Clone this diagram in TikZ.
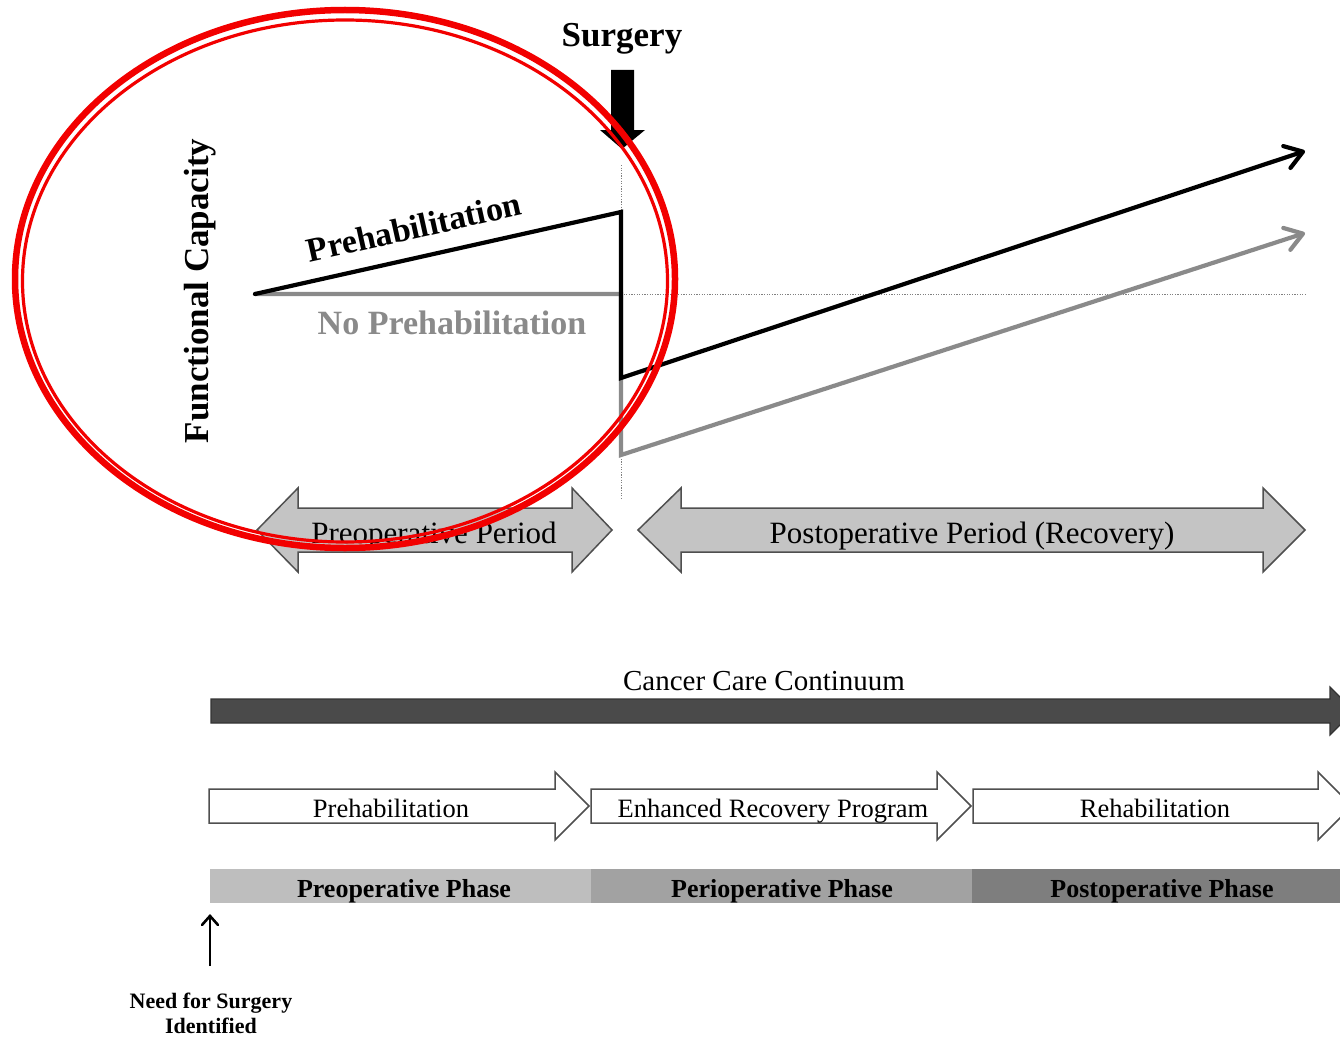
\documentclass[tikz,border=0pt]{standalone}
\usepackage{fontspec}
\setmainfont{Liberation Serif}
\usetikzlibrary{arrows.meta}

\definecolor{lineblack}{HTML}{000000}
\definecolor{linegray}{HTML}{8A8A8A}
\definecolor{periodfill}{HTML}{C4C4C4}
\definecolor{edgegray}{HTML}{4F4F4F}
\definecolor{continuum}{HTML}{4A4A4A}
\definecolor{phaseA}{HTML}{BEBEBE}
\definecolor{phaseB}{HTML}{A2A2A2}
\definecolor{phaseC}{HTML}{7E7E7E}
\definecolor{markred}{HTML}{F20000}

\tikzset{
  trend/.style={line width=4.2pt, line join=miter, line cap=round,
    -{Straight Barb[length=17pt, width=23pt, line cap=round, line join=round]}},
  guide/.style={draw=gray, line width=1pt, dash pattern=on 1.2pt off 1.4pt},
  periodarrow/.style={fill=periodfill, draw=edgegray, line width=1.5pt, line join=miter},
  steparrow/.style={fill=white, draw=edgegray, line width=1.5pt, line join=miter},
  lbl/.style={inner sep=0pt, anchor=center},
  blbl/.style={inner sep=0pt, anchor=base},
}

\begin{document}
\begin{tikzpicture}[x=1pt, y=-1pt]
\useasboundingbox (0,0) rectangle (1340,1038);
\fill[white] (0,0) rectangle (1340,1038);

% ---- functional capacity graph ----
\coordinate (start) at (255,294);
\coordinate (prepeak) at (621,212);
\coordinate (predrop) at (621,378);
\coordinate (pretip) at (1305,151);
\coordinate (nopre) at (621,294);
\coordinate (nodrop) at (621,455);
\coordinate (notip) at (1305,233);
\coordinate (vtop) at (621,165);
\coordinate (vbot) at (621,498);
\coordinate (hend) at (1305,294);

\draw[guide] (vtop) -- (vbot);
\draw[guide] (nopre) -- (hend);

\draw[trend, draw=linegray] (start) -- (nopre) -- (nodrop) -- (notip);
\draw[trend, draw=lineblack] (start) -- (prepeak) -- (predrop) -- (pretip);

\node[lbl, font=\bfseries\fontsize{34}{34}\selectfont, rotate=12.6] (prelab) at (414,227) {Prehabilitation};
\node[blbl, text=linegray, font=\bfseries\fontsize{34}{34}\selectfont] (noprelab) at (452,334) {No Prehabilitation};
\node[lbl, font=\bfseries\fontsize{35}{35}\selectfont, rotate=90] (ylab) at (200,291) {Functional Capacity};

% surgery marker
\node[blbl, font=\bfseries\fontsize{35}{35}\selectfont] (surg) at (622,47) {Surgery};
\fill[black] (611,70) -- (634,70) -- (634,130) -- (645,130) -- (622,149)
  -- (600,130) -- (611,130) -- cycle;

% ---- period arrows ----
\draw[periodarrow] (257,530) -- (298,488) -- (298,508) -- (572,508) -- (572,488)
  -- (612,530) -- (572,572) -- (572,552) -- (298,552) -- (298,572) -- cycle;
\node[blbl, font=\fontsize{31}{31}\selectfont] (preper) at (434,543) {Preoperative Period};

\draw[periodarrow] (638,530) -- (681,488) -- (681,508) -- (1263,508) -- (1263,488)
  -- (1305,530) -- (1263,572) -- (1263,552) -- (681,552) -- (681,572) -- cycle;
\node[blbl, font=\fontsize{31}{31}\selectfont] (postper) at (972,543) {Postoperative Period (Recovery)};

% ---- cancer care continuum ----
\node[blbl, font=\fontsize{29}{29}\selectfont] (ccc) at (764,690) {Cancer Care Continuum};
\draw[fill=continuum, draw=black!80, line width=1.2pt]
  (211,699) -- (1330,699) -- (1330,687) -- (1354,711) -- (1330,735) -- (1330,723)
  -- (211,723) -- cycle;

% ---- program arrows ----
\draw[steparrow] (209,789) -- (555,789) -- (555,772) -- (589,806) -- (555,840)
  -- (555,823) -- (209,823) -- cycle;
\node[blbl, font=\fontsize{26.5}{26.5}\selectfont] (prehab) at (391,817) {Prehabilitation};

\draw[steparrow] (591,789) -- (937,789) -- (937,772) -- (971,806) -- (937,840)
  -- (937,823) -- (591,823) -- cycle;
\node[blbl, font=\fontsize{26.5}{26.5}\selectfont] (erp) at (773,817) {Enhanced Recovery Program};

\draw[steparrow] (973,789) -- (1318,789) -- (1318,772) -- (1352,806) -- (1318,840)
  -- (1318,823) -- (973,823) -- cycle;
\node[blbl, font=\fontsize{26.5}{26.5}\selectfont] (rehab) at (1155,817) {Rehabilitation};

% ---- phase bars ----
\fill[phaseA] (210,869) rectangle (591,903);
\fill[phaseB] (591,869) rectangle (972,903);
\fill[phaseC] (972,869) rectangle (1345,903);
\node[blbl, font=\bfseries\fontsize{26}{26}\selectfont] (ph1) at (404,897) {Preoperative Phase};
\node[blbl, font=\bfseries\fontsize{26}{26}\selectfont] (ph2) at (782,897) {Perioperative Phase};
\node[blbl, font=\bfseries\fontsize{26}{26}\selectfont] (ph3) at (1162,897) {Postoperative Phase};

% ---- need for surgery ----
\node[blbl, font=\bfseries\fontsize{22}{22}\selectfont] (need1) at (211,1008) {Need for Surgery};
\node[blbl, font=\bfseries\fontsize{22}{22}\selectfont] (need2) at (211,1033) {Identified};
\coordinate (needtip) at (210,914);
\coordinate (needbase) at (210,966);
\draw[line width=2.6pt, -{Straight Barb[length=9pt, width=16pt, line cap=round]}] (needbase) -- (needtip);

% ---- red hand-drawn ring ----
\draw[markred, line width=6.5pt] (345,279) ellipse [x radius=330, y radius=269];
\draw[markred, line width=3.2pt] (345,281) ellipse [x radius=322.5, y radius=261];
\end{tikzpicture}
\end{document}
